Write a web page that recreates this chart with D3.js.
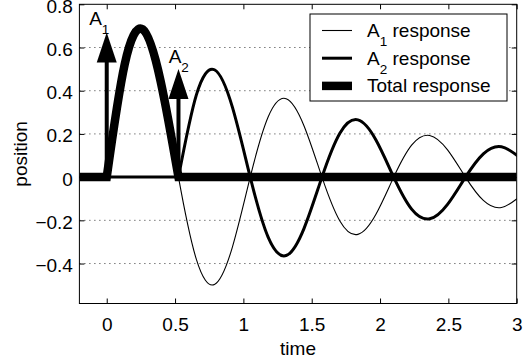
<!DOCTYPE html>
<html><head><meta charset="utf-8">
<script src="https://cdn.jsdelivr.net/npm/d3@7/dist/d3.min.js"></script>
<style>
html,body{margin:0;padding:0;background:#fff;}
svg text{font-family:"Liberation Sans",Arial,Helvetica,sans-serif;fill:#000;}
</style></head>
<body><svg id="c" width="530" height="362"></svg>
<script>
// ---- data ----
const xTicks = [0, 0.5, 1, 1.5, 2, 2.5, 3];
const xTickLabels = ["0", "0.5", "1", "1.5", "2", "2.5", "3"];
const yTicks = [-0.4, -0.2, 0, 0.2, 0.4, 0.6, 0.8];
const yTickLabels = ["\u22120.4", "\u22120.2", "0", "0.2", "0.4", "0.6", "0.8"];
const gridValues = [-0.4, -0.2, 0, 0.2, 0.4, 0.6];

const impulseTimes = [0, 0.525];
const impulseAmps = [0.67, 0.5];
const impulseNames = ["1", "2"];

// A1 response (starts at t = 0)
const a1Times = [0, 0.131, 0.263, 0.394, 0.525, 0.656, 0.788, 0.919, 1.05, 1.181, 1.313, 1.444,
  1.575, 1.706, 1.838, 1.969, 2.1, 2.231, 2.363, 2.494, 2.625, 2.756, 2.888, 3.019];
const a1Values = [0, 0.521, 0.682, 0.445, 0, -0.381, -0.497, -0.325, 0, 0.278, 0.363, 0.237,
  0, -0.203, -0.265, -0.173, 0, 0.148, 0.193, 0.126, 0, -0.108, -0.141, -0.092];
// A2 response (starts at t = 0.525)
const a2Times = [0.525, 0.656, 0.788, 0.919, 1.05, 1.181, 1.313, 1.444,
  1.575, 1.706, 1.838, 1.969, 2.1, 2.231, 2.363, 2.494, 2.625, 2.756, 2.888, 3.019];
const a2Values = [0, 0.381, 0.497, 0.325, 0, -0.278, -0.363, -0.237,
  0, 0.203, 0.265, 0.173, 0, -0.148, -0.193, -0.126, 0, 0.108, 0.141, 0.092];
// Total response (non-zero only between the two impulses)
const totalTimes = [0, 0.131, 0.263, 0.394, 0.525];
const totalValues = [0, 0.521, 0.684, 0.445, 0];
const restStart = -0.2;   // all responses are at rest before their impulse
const endTime = 3;

const legendNames = [["A", "1", " response"], ["A", "2", " response"], ["Total response", "", ""]];

// ---- layout ----
const svg = d3.select("#c");
const L = 79.4, R = 516.7, T = 4.3, B = 303.5;
const x = d3.scaleLinear().domain([-0.2, 3]).range([L, R]);
const y = d3.scaleLinear().domain([-0.585, 0.8]).range([B, T]);
const fs = 19, sfs = 13.5;

svg.append("defs").append("clipPath").attr("id", "clip")
  .append("rect").attr("x", L).attr("y", T).attr("width", R - L).attr("height", B - T);

// grid
svg.append("g").selectAll("line").data(gridValues).join("line")
  .attr("x1", L).attr("x2", R).attr("y1", d => y(d)).attr("y2", d => y(d))
  .attr("stroke", "#000").attr("stroke-width", 0.8).attr("stroke-dasharray", "1,4");

// axes
const xa = svg.append("g").attr("transform", `translate(0,${B})`)
  .call(d3.axisBottom(x).tickValues(xTicks).tickSize(-5).tickSizeOuter(0).tickPadding(14)
    .tickFormat((d, i) => xTickLabels[i]));
const xt = svg.append("g").attr("transform", `translate(0,${T})`)
  .call(d3.axisTop(x).tickValues(xTicks).tickSize(-5).tickSizeOuter(0).tickFormat(""));
const ya = svg.append("g").attr("transform", `translate(${L},0)`)
  .call(d3.axisLeft(y).tickValues(yTicks).tickSize(-5).tickSizeOuter(0).tickPadding(6.5)
    .tickFormat((d, i) => yTickLabels[i]));
const yr = svg.append("g").attr("transform", `translate(${R},0)`)
  .call(d3.axisRight(y).tickValues(yTicks).tickSize(-5).tickSizeOuter(0).tickFormat(""));
[xa, xt, ya, yr].forEach(g => {
  g.select(".domain").remove();
  g.selectAll("line").attr("stroke", "#000");
  g.selectAll("text").attr("font-size", fs).attr("font-family", null).attr("fill", "#000");
});
ya.selectAll("text").attr("dy", "0.42em");

// curves
const plot = svg.append("g").attr("clip-path", "url(#clip)");
const lin = d3.line().x(d => x(d[0])).y(d => y(d[1]));
const nat = d3.line().x(d => x(d[0])).y(d => y(d[1])).curve(d3.curveNatural);
const zip = (ts, vs) => ts.map((t, i) => [t, vs[i]]);
const join = parts => parts.map((p, i) => i === 0 ? p : p.replace(/^M/, "L")).join("");

const a1Path = join([lin([[restStart, 0], [a1Times[0], 0]]), nat(zip(a1Times, a1Values))]);
const a2Path = join([lin([[restStart, 0], [a2Times[0], 0]]), nat(zip(a2Times, a2Values))]);
const totPath = join([lin([[restStart, 0], [totalTimes[0], 0]]), nat(zip(totalTimes, totalValues)),
  lin([[totalTimes[totalTimes.length - 1], 0], [endTime, 0]])]);

plot.append("path").attr("d", a1Path).attr("fill", "none").attr("stroke", "#000").attr("stroke-width", 1.1);
plot.append("path").attr("d", a2Path).attr("fill", "none").attr("stroke", "#000").attr("stroke-width", 3);
plot.append("path").attr("d", totPath).attr("fill", "none").attr("stroke", "#000").attr("stroke-width", 8.5)
  .attr("stroke-linejoin", "miter");

// impulse arrows
const headLen = 30, headW = 10;
const imp = svg.append("g");
impulseTimes.forEach((t, i) => {
  const px = x(t), tip = y(impulseAmps[i]), base = y(0);
  imp.append("line").attr("x1", px).attr("x2", px).attr("y1", base).attr("y2", tip + headLen - 1)
    .attr("stroke", "#000").attr("stroke-width", 4);
  imp.append("path").attr("d", `M${px},${tip}L${px - headW},${tip + headLen}L${px + headW},${tip + headLen}Z`)
    .attr("fill", "#000");
});
const labelOffsets = [[-17.6, -7.4], [-9.8, -6]];
impulseTimes.forEach((t, i) => {
  const tx = svg.append("text").attr("x", x(t) + labelOffsets[i][0]).attr("y", y(impulseAmps[i]) + labelOffsets[i][1])
    .attr("font-size", fs);
  tx.append("tspan").text("A");
  tx.append("tspan").attr("dy", 9).attr("font-size", sfs).text(impulseNames[i]);
});

// frame
svg.append("rect").attr("x", L).attr("y", T).attr("width", R - L).attr("height", B - T)
  .attr("fill", "none").attr("stroke", "#000").attr("stroke-width", 1);

// axis titles
svg.append("text").attr("x", (L + R) / 2).attr("y", 355).attr("text-anchor", "middle")
  .attr("font-size", fs).text("time");
svg.append("text").attr("transform", `translate(27,${(T + B) / 2}) rotate(-90)`)
  .attr("text-anchor", "middle").attr("font-size", fs).text("position");

// legend
const lg = svg.append("g");
lg.append("rect").attr("x", 310).attr("y", 14).attr("width", 197).attr("height", 87)
  .attr("fill", "#fff").attr("stroke", "#000").attr("stroke-width", 1);
const widths = [1.1, 3, 8.5];
legendNames.forEach((n, i) => {
  const cy = 30.5 + i * 27.7;
  lg.append("line").attr("x1", 322).attr("x2", 352).attr("y1", cy).attr("y2", cy)
    .attr("stroke", "#000").attr("stroke-width", widths[i]);
  const tx = lg.append("text").attr("x", 367).attr("y", cy + 6.5).attr("font-size", fs);
  tx.append("tspan").text(n[0]);
  if (n[1]) {
    tx.append("tspan").attr("dy", 9).attr("font-size", sfs).text(n[1]);
    tx.append("tspan").attr("dy", -9).text(n[2]);
  }
});
</script></body></html>
